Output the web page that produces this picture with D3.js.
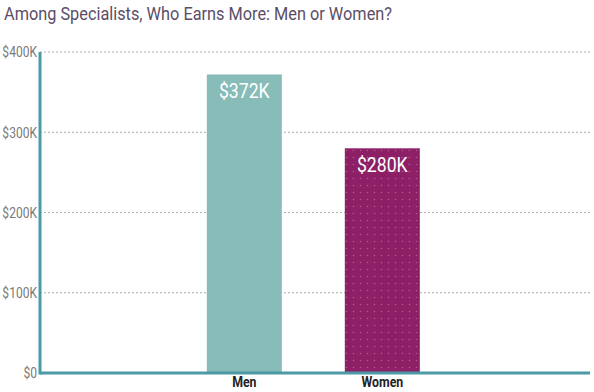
<html>
<script src="https://d3js.org/d3.v7.min.js"></script>
<style>
    body { margin: 0; background: #fff; }
    .title { font-family: Roboto, sans-serif; font-size: 18px; fill: #5b4d68; }
    .tick text { font-family: Roboto, sans-serif; font-size: 14px; fill: #7a7a7a; }
    .cat { font-family: Roboto, sans-serif; font-size: 15px; font-weight: bold; fill: #222; }
    .val { font-family: Roboto, sans-serif; font-size: 21px; fill: #fff; }
    .grid line { stroke: #999; stroke-dasharray: 2 2; stroke-width: 0.8; }
</style>
<body>
<div id="chart"></div>
<script>
    var categories = ["Men", "Women"];
    var salaries = [372000, 280000];
    var valueLabels = ["$372K", "$280K"];
    var yTicks = [0, 100000, 200000, 300000, 400000];
    var tickLabels = ["$0", "$100K", "$200K", "$300K", "$400K"];

    var width = 594, height = 392;
    var margin = { top: 52, right: 4, bottom: 19, left: 40 };

    // squeeze text horizontally, the original uses a condensed face
    function condense(sel, k) {
        sel.each(function () {
            var w = this.getComputedTextLength();
            d3.select(this).attr("textLength", w * k).attr("lengthAdjust", "spacingAndGlyphs");
        });
    }

    var svg = d3.select("#chart").append("svg")
        .attr("width", width)
        .attr("height", height);

    // dotted texture for the women bar
    var pat = svg.append("defs").append("pattern")
        .attr("id", "dots")
        .attr("width", 7).attr("height", 7)
        .attr("patternUnits", "userSpaceOnUse");
    pat.append("rect").attr("width", 7).attr("height", 7).attr("fill", "#8d1f66");
    pat.append("circle").attr("cx", 3.5).attr("cy", 3.5).attr("r", 0.8).attr("fill", "#b0578f");

    svg.append("text")
        .attr("class", "title")
        .attr("x", 4).attr("y", 20)
        .attr("textLength", 388)
        .attr("lengthAdjust", "spacingAndGlyphs")
        .text("Among Specialists, Who Earns More: Men or Women?");

    var x = d3.scaleBand()
        .domain(categories)
        .range([margin.left, width - margin.right])
        .paddingInner(0.4565)
        .paddingOuter(1.221)
        .align(0.495);

    var y = d3.scaleLinear()
        .domain([0, 400000])
        .range([height - margin.bottom, margin.top]);

    // gridlines
    svg.append("g")
        .attr("class", "grid")
        .selectAll("line")
        .data(yTicks.slice(1))
        .enter().append("line")
        .attr("x1", margin.left).attr("x2", width - margin.right)
        .attr("y1", function (d) { return y(d); })
        .attr("y2", function (d) { return y(d); });

    // y axis labels
    var yAxis = svg.append("g")
        .attr("transform", "translate(" + margin.left + ",0)")
        .call(d3.axisLeft(y).tickValues(yTicks)
            .tickFormat(function (d, i) { return tickLabels[i]; })
            .tickSize(0).tickPadding(3));
    yAxis.select(".domain").remove();
    yAxis.selectAll(".tick text").attr("dy", "0.35em").call(condense, 0.86);

    // bars
    svg.selectAll(".bar")
        .data(categories)
        .enter().append("rect")
        .attr("class", "bar")
        .attr("x", function (d) { return x(d); })
        .attr("width", x.bandwidth())
        .attr("y", function (d, i) { return y(salaries[i]); })
        .attr("height", function (d, i) { return y(0) - y(salaries[i]); })
        .attr("fill", function (d, i) { return i == 0 ? "#87bcb8" : "url(#dots)"; });

    svg.selectAll(".val")
        .data(categories)
        .enter().append("text")
        .attr("class", "val")
        .attr("text-anchor", "middle")
        .attr("x", function (d) { return x(d) + x.bandwidth() / 2; })
        .attr("y", function (d, i) { return y(salaries[i]) + 24; })
        .text(function (d, i) { return valueLabels[i]; })
        .call(condense, 0.84);

    // axis lines
    svg.append("line")
        .attr("x1", margin.left).attr("x2", margin.left)
        .attr("y1", margin.top).attr("y2", y(0) + 1.5)
        .attr("stroke", "#4b9aa5").attr("stroke-width", 3);
    svg.append("line")
        .attr("x1", margin.left).attr("x2", width - margin.right)
        .attr("y1", y(0)).attr("y2", y(0))
        .attr("stroke", "#4b9aa5").attr("stroke-width", 3);

    svg.selectAll(".cat")
        .data(categories)
        .enter().append("text")
        .attr("class", "cat")
        .attr("text-anchor", "middle")
        .attr("x", function (d) { return x(d) + x.bandwidth() / 2; })
        .attr("y", 387)
        .text(function (d) { return d; })
        .call(condense, 0.82);
</script>
</body>
</html>
